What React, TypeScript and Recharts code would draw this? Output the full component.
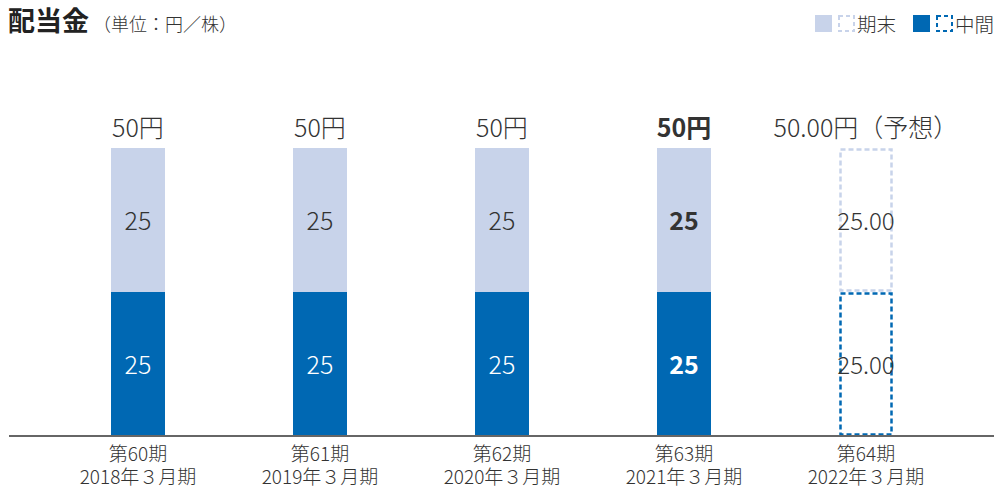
import React from 'react';
import { BarChart, Bar, XAxis, YAxis, LabelList } from 'recharts';

const periods = ['第60期', '第61期', '第62期', '第63期', '第64期'];
const fiscalYears = ['2018年３月期', '2019年３月期', '2020年３月期', '2021年３月期', '2022年３月期'];
const interim = [25, 25, 25, 25, 25];
const yearEnd = [25, 25, 25, 25, 25];
const segmentLabels = ['25', '25', '25', '25', '25.00'];
const totalLabels = ['50円', '50円', '50円', '50円', '50.00円（予想）'];
const boldFlags = [false, false, false, true, false];
const forecastFlags = [false, false, false, false, true];

const LIGHT = '#c8d3ea';
const DARK = '#0068b3';
const TEXT = '#333333';
const FONT = '"Noto Sans CJK JP", "Noto Sans", sans-serif';

const data = periods.map((p, i) => ({
  period: p,
  year: fiscalYears[i],
  interim: interim[i],
  yearEnd: yearEnd[i],
}));

const makeShape = (color: string) => (props: any) => {
  const { x, y, width, height, index } = props;
  if (forecastFlags[index]) {
    return (
      <rect
        x={x + 1.5}
        y={y + 1.5}
        width={width - 3}
        height={height - 3}
        fill="none"
        stroke={color}
        strokeWidth={2.5}
        strokeDasharray="5 3"
      />
    );
  }
  return <rect x={x} y={y} width={width} height={height} fill={color} />;
};

const segmentLabel = (white: boolean) => (props: any) => {
  const { x, y, width, height, index } = props;
  const forecast = forecastFlags[index];
  return (
    <text
      x={x + width / 2}
      y={y + height / 2 - 1}
      textAnchor="middle"
      dominantBaseline="central"
      fontSize={forecast ? 24 : 25}
      fontFamily={FONT}
      fontWeight={boldFlags[index] ? 700 : 300}
      fill={white && !forecast ? '#ffffff' : TEXT}
    >
      {segmentLabels[index]}
    </text>
  );
};

const totalLabel = (props: any) => {
  const { x, y, width, index } = props;
  return (
    <text
      x={x + width / 2}
      y={y - 11}
      textAnchor="middle"
      fontSize={25}
      fontFamily={FONT}
      fontWeight={boldFlags[index] ? 700 : 300}
      fill={TEXT}
    >
      {totalLabels[index]}
    </text>
  );
};

const XTick = (props: any) => {
  const { x, y, index } = props;
  return (
    <g>
      <text x={x} y={y + 17} textAnchor="middle" fontSize={19} fontWeight={300} fontFamily={FONT} fill={TEXT}>
        {periods[index]}
      </text>
      <text x={x} y={y + 40} textAnchor="middle" fontSize={19} fontWeight={300} fontFamily={FONT} fill={TEXT}>
        {fiscalYears[index]}
      </text>
    </g>
  );
};

const Swatch = ({ color, dashed }: { color: string; dashed?: boolean }) => (
  <svg width={17} height={17} style={{ display: 'block' }}>
    {dashed ? (
      <rect x={1} y={1} width={15} height={15} fill="none" stroke={color} strokeWidth={2} strokeDasharray="4 3" />
    ) : (
      <rect x={0} y={0} width={17} height={17} fill={color} />
    )}
  </svg>
);

export default function App() {
  return (
    <div style={{ position: 'absolute', left: 0, top: 0, width: 994, height: 489, background: '#fff', fontFamily: FONT }}>
      <div style={{ position: 'absolute', left: 8, top: 0, display: 'flex', alignItems: 'baseline', color: TEXT }}>
        <span style={{ fontSize: 27, fontWeight: 700, color: '#222' }}>配当金</span>
        <span style={{ fontSize: 18, marginLeft: 4, fontWeight: 300 }}>（単位：円／株）</span>
      </div>
      <div style={{ position: 'absolute', right: 0, top: 9, display: 'flex', alignItems: 'center', fontSize: 19.5, fontWeight: 300, color: TEXT }}>
        <Swatch color={LIGHT} />
        <span style={{ width: 6 }} />
        <Swatch color={LIGHT} dashed />
        <span style={{ marginLeft: 2 }}>期末</span>
        <span style={{ width: 17 }} />
        <Swatch color={DARK} />
        <span style={{ width: 6 }} />
        <Swatch color={DARK} dashed />
        <span style={{ marginLeft: 2 }}>中間</span>
      </div>
      <div style={{ position: 'absolute', left: 0, top: 0 }}>
        <BarChart width={994} height={489} data={data} margin={{ top: 148, right: 0, bottom: 0, left: 9 }}>
          <YAxis hide domain={[0, 50]} />
          <XAxis
            dataKey="period"
            height={53}
            interval={0}
            padding={{ left: 38, right: 37 }}
            tickLine={false}
            axisLine={{ stroke: '#666666', strokeWidth: 2 }}
            tick={<XTick />}
          />
          <Bar dataKey="interim" stackId="a" barSize={54} shape={makeShape(DARK)} isAnimationActive={false}>
            <LabelList dataKey="interim" content={segmentLabel(true)} />
          </Bar>
          <Bar dataKey="yearEnd" stackId="a" barSize={54} shape={makeShape(LIGHT)} isAnimationActive={false}>
            <LabelList dataKey="yearEnd" content={segmentLabel(false)} />
            <LabelList dataKey="yearEnd" content={totalLabel} />
          </Bar>
        </BarChart>
      </div>
    </div>
  );
}
